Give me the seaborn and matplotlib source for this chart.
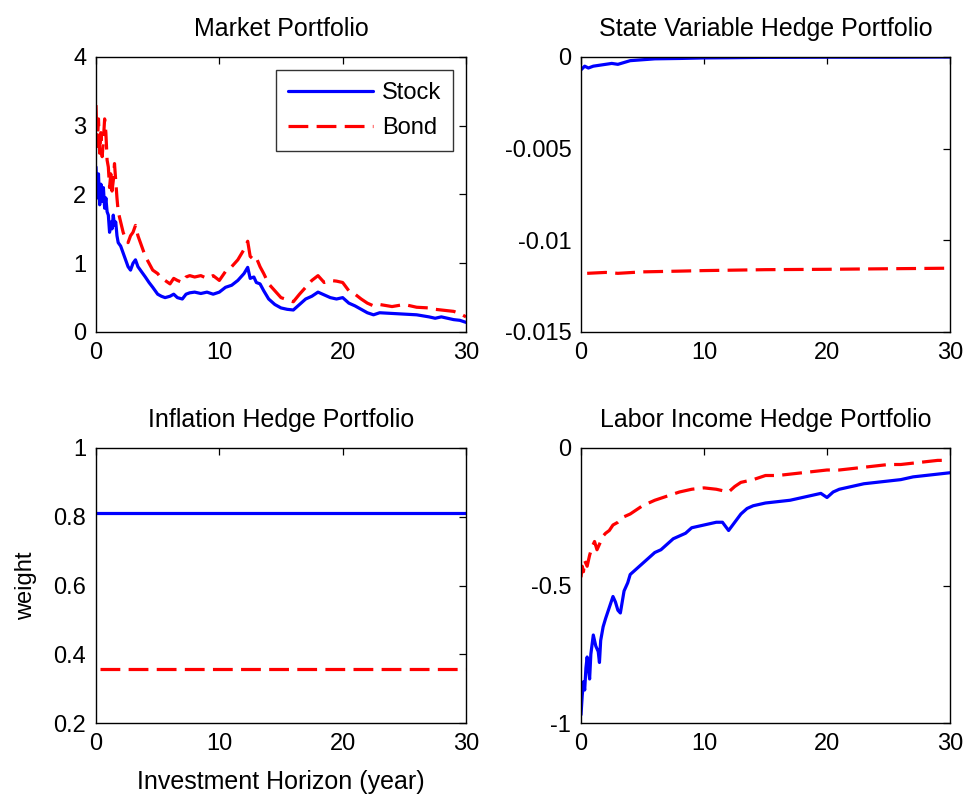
import numpy as np
import pandas as pd
import matplotlib
matplotlib.use("Agg")
import matplotlib.pyplot as plt
from matplotlib.ticker import FuncFormatter
import seaborn as sns

# ---- Market portfolio weights ----
mkt_stock_x = [0.0, 0.1, 0.2, 0.3, 0.4, 0.5, 0.6, 0.7, 0.8, 0.9, 1.0, 1.1, 1.2, 1.3, 1.4, 1.5,
               1.6, 1.7, 1.8, 2.0, 2.2, 2.4, 2.6, 2.8, 3.0, 3.2, 3.4, 3.6, 3.8, 4.0, 4.3, 4.6,
               5.0, 5.3, 5.6, 6.0, 6.3, 6.6, 7.0, 7.3, 7.6, 8.0, 8.5, 9.0, 9.5, 10.0, 10.5,
               11.0, 11.5, 12.0, 12.3, 12.5, 12.8, 13.0, 13.3, 13.6, 14.0, 14.5, 15.0, 15.5,
               16.0, 16.5, 17.0, 17.5, 18.0, 18.5, 19.0, 19.5, 20.0, 20.5, 21.0, 21.5, 22.0,
               22.5, 23.0, 24.0, 25.0, 26.0, 27.0, 27.5, 28.0, 29.0, 29.5, 30.0]
mkt_stock_y = [2.40, 1.95, 2.30, 1.85, 2.15, 1.90, 2.10, 1.80, 1.95, 1.75, 1.70, 1.45, 1.60,
               1.50, 1.70, 1.55, 1.60, 1.40, 1.30, 1.25, 1.15, 1.05, 0.95, 0.90, 1.00, 1.05,
               0.95, 0.90, 0.85, 0.80, 0.72, 0.65, 0.55, 0.52, 0.50, 0.52, 0.55, 0.50, 0.48,
               0.55, 0.57, 0.58, 0.56, 0.58, 0.55, 0.58, 0.65, 0.68, 0.75, 0.85, 0.94, 0.78,
               0.80, 0.72, 0.70, 0.60, 0.48, 0.40, 0.35, 0.33, 0.32, 0.40, 0.48, 0.52, 0.58,
               0.54, 0.50, 0.48, 0.50, 0.42, 0.38, 0.33, 0.28, 0.25, 0.28, 0.27, 0.26, 0.25,
               0.22, 0.20, 0.22, 0.18, 0.17, 0.14]
mkt_bond_x = mkt_stock_x
mkt_bond_y = [3.30, 2.70, 3.10, 2.60, 2.90, 2.55, 2.80, 3.10, 2.90, 2.50, 2.40, 2.10, 2.30,
              2.05, 2.20, 2.45, 2.20, 1.95, 1.75, 1.60, 1.45, 1.35, 1.30, 1.40, 1.45, 1.55,
              1.40, 1.30, 1.20, 1.10, 1.00, 0.90, 0.85, 0.78, 0.75, 0.70, 0.78, 0.75, 0.72,
              0.80, 0.82, 0.80, 0.82, 0.78, 0.82, 0.75, 0.88, 0.95, 1.05, 1.20, 1.32, 1.10,
              1.05, 1.08, 0.95, 0.85, 0.70, 0.60, 0.50, 0.47, 0.44, 0.55, 0.65, 0.75, 0.82,
              0.72, 0.75, 0.74, 0.72, 0.60, 0.55, 0.48, 0.42, 0.38, 0.40, 0.37, 0.40, 0.36,
              0.35, 0.33, 0.32, 0.30, 0.27, 0.22]

# ---- State variable hedge portfolio weights ----
sv_stock_x = [0.0, 0.3, 0.6, 1.0, 1.5, 2.0, 2.5, 3.0, 3.5, 4.0, 5.0, 6.0, 8.0, 10.0, 12.0,
              15.0, 20.0, 25.0, 30.0]
sv_stock_y = [-0.0007, -0.0005, -0.0006, -0.0005, -0.00045, -0.0004, -0.00035, -0.0004,
              -0.0003, -0.0002, -0.00015, -0.0001, -0.00008, -0.00005, -0.00004, -0.00002,
              -0.00001, -0.00001, 0.0]
sv_bond_x = [0.5, 2.0, 3.0, 5.0, 8.0, 10.0, 15.0, 20.0, 25.0, 30.0]
sv_bond_y = [-0.0118, -0.01175, -0.0118, -0.01172, -0.01168, -0.01165, -0.0116, -0.01158,
             -0.01155, -0.01152]

# ---- Inflation hedge portfolio weights ----
inf_stock_x = [0.0, 30.0]
inf_stock_y = [0.812, 0.812]
inf_bond_x = [0.3, 30.0]
inf_bond_y = [0.357, 0.357]

# ---- Labor income hedge portfolio weights ----
lab_stock_x = [0.0, 0.1, 0.2, 0.3, 0.4, 0.5, 0.6, 0.7, 0.8, 1.0, 1.2, 1.4, 1.5, 1.6, 1.8,
               2.0, 2.3, 2.6, 2.8, 3.0, 3.2, 3.5, 3.8, 4.0, 4.5, 5.0, 5.5, 6.0, 6.5, 7.0, 7.5,
               8.0, 8.5, 9.0, 9.5, 10.0, 10.5, 11.0, 11.5, 12.0, 12.5, 13.0, 13.5, 14.0, 15.0,
               16.0, 17.0, 18.0, 19.0, 19.5, 20.0, 20.5, 21.0, 22.0, 23.0, 24.0, 25.0, 26.0,
               27.0, 28.0, 29.0, 30.0]
lab_stock_y = [-0.97, -0.90, -0.85, -0.88, -0.80, -0.76, -0.80, -0.84, -0.75, -0.68, -0.72,
               -0.74, -0.78, -0.70, -0.65, -0.62, -0.58, -0.54, -0.56, -0.59, -0.60, -0.52,
               -0.49, -0.46, -0.44, -0.42, -0.40, -0.38, -0.37, -0.35, -0.33, -0.32, -0.31,
               -0.29, -0.285, -0.28, -0.275, -0.27, -0.27, -0.30, -0.27, -0.24, -0.22, -0.21,
               -0.20, -0.195, -0.19, -0.18, -0.17, -0.165, -0.18, -0.16, -0.15, -0.14, -0.13,
               -0.125, -0.12, -0.115, -0.105, -0.10, -0.095, -0.09]
lab_bond_x = [0.0, 0.1, 0.2, 0.3, 0.5, 0.7, 0.9, 1.1, 1.3, 1.5, 1.8, 2.0, 2.3, 2.6, 3.0, 3.5,
              4.0, 4.5, 5.0, 6.0, 7.0, 8.0, 9.0, 10.0, 11.0, 12.0, 12.5, 13.0, 14.0, 15.0,
              16.0, 17.0, 18.0, 19.0, 20.0, 21.0, 22.0, 23.0, 24.0, 25.0, 26.0, 27.0, 28.0,
              29.0, 30.0]
lab_bond_y = [-0.47, -0.43, -0.45, -0.41, -0.43, -0.39, -0.36, -0.34, -0.37, -0.35, -0.32,
              -0.31, -0.30, -0.28, -0.27, -0.25, -0.24, -0.225, -0.21, -0.19, -0.175, -0.16,
              -0.15, -0.145, -0.15, -0.16, -0.14, -0.125, -0.115, -0.10, -0.10, -0.095, -0.09,
              -0.085, -0.08, -0.08, -0.075, -0.07, -0.065, -0.06, -0.06, -0.055, -0.05,
              -0.045, -0.045]

titles = ["Market Portfolio", "State Variable Hedge Portfolio",
          "Inflation Hedge Portfolio", "Labor Income Hedge Portfolio"]
x_ticks = [0, 10, 20, 30]
y_ticks = [[0, 1, 2, 3, 4], [-0.015, -0.01, -0.005, 0],
           [0.2, 0.4, 0.6, 0.8, 1.0], [-1, -0.5, 0]]
series = [(mkt_stock_x, mkt_stock_y, mkt_bond_x, mkt_bond_y),
          (sv_stock_x, sv_stock_y, sv_bond_x, sv_bond_y),
          (inf_stock_x, inf_stock_y, inf_bond_x, inf_bond_y),
          (lab_stock_x, lab_stock_y, lab_bond_x, lab_bond_y)]

sns.set_style("white")
plt.rcParams["font.family"] = ["Liberation Sans", "DejaVu Sans"]
plt.rcParams["axes.unicode_minus"] = False
plt.rcParams["text.color"] = "black"
plt.rcParams["axes.labelcolor"] = "black"

W, H = 965, 794
fig = plt.figure(figsize=(W / 100, H / 100), dpi=100)

# axes boxes in pixels: left, top, right, bottom
boxes = [(96, 57, 466, 332), (581, 57, 950, 332),
         (96, 448, 466, 723), (581, 448, 950, 723)]

palette = {"Stock": "#0000ff", "Bond": "#ff0000"}
dashes = {"Stock": "", "Bond": (6.2, 2.6)}
fs = 17

for i, (box, (sx, sy, bx, by)) in enumerate(zip(boxes, series)):
    l, t, r, b = box
    ax = fig.add_axes([l / W, 1 - b / H, (r - l) / W, (b - t) / H])
    df = pd.concat([
        pd.DataFrame({"horizon": sx, "weight": sy, "asset": "Stock"}),
        pd.DataFrame({"horizon": bx, "weight": by, "asset": "Bond"}),
    ], ignore_index=True)
    sns.lineplot(data=df, x="horizon", y="weight", hue="asset", style="asset",
                 palette=palette, dashes=dashes, estimator=None, sort=False,
                 linewidth=2.3, ax=ax, legend=(i == 0))
    ax.set_xlim(0, 30)
    yt = y_ticks[i]
    ax.set_ylim(yt[0], yt[-1])
    ax.set_xticks(x_ticks)
    ax.set_yticks(yt)
    ax.yaxis.set_major_formatter(FuncFormatter(lambda v, p: "%g" % v))
    ax.tick_params(direction="in", top=True, right=True, length=5, width=0.9,
                   labelsize=fs, pad=7, colors="black")
    for sp in ax.spines.values():
        sp.set_visible(True)
        sp.set_color("black")
        sp.set_linewidth(1.0)
    ax.set_title(titles[i], fontsize=18, pad=15, color="black")
    ax.set_xlabel("")
    ax.set_ylabel("")
    if i == 0:
        handles, labels = ax.get_legend_handles_labels()
        leg = ax.legend(handles, labels, loc="upper right", fontsize=fs,
                        frameon=True, fancybox=False, edgecolor="black",
                        handlelength=3.6, borderaxespad=0.55, borderpad=0.5,
                        labelspacing=0.55, handletextpad=0.4)
        leg.get_frame().set_linewidth(1.0)
    if i == 2:
        ax.set_xlabel("Investment Horizon (year)", fontsize=18, labelpad=11)
        ax.set_ylabel("weight", fontsize=fs, labelpad=12)

fig.savefig("out.png", dpi=100, facecolor="white")
